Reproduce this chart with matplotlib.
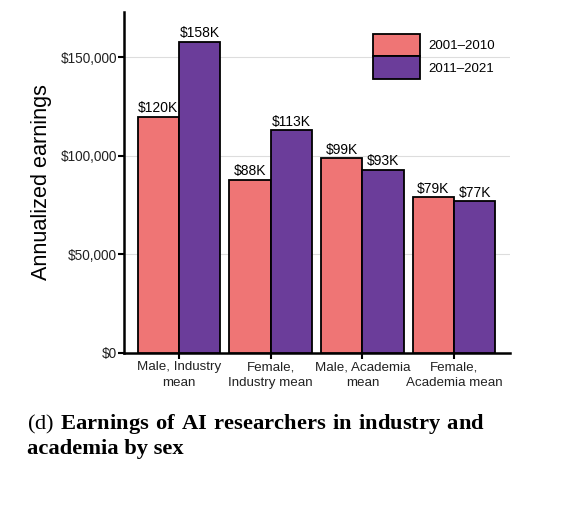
import matplotlib.pyplot as plt
import numpy as np

groups = ["Male, Industry\nmean", "Female,\nIndustry mean",
          "Male, Academia\nmean", "Female,\nAcademia mean"]
series_names = ["2001\u20132010", "2011\u20132021"]
earn_2001_2010 = [120000, 88000, 99000, 79000]
earn_2011_2021 = [158000, 113000, 93000, 77000]
bar_labels_2001 = ["$120K", "$88K", "$99K", "$79K"]
bar_labels_2011 = ["$158K", "$113K", "$93K", "$77K"]
yticks = [0, 50000, 100000, 150000]
ytick_labels = ["$0", "$50,000", "$100,000", "$150,000"]

colors = ["#EF7575", "#6B3D9A"]


def main():
    plt.rcParams["font.family"] = ["Liberation Sans", "DejaVu Sans"]
    plt.rcParams["mathtext.fontset"] = "custom"
    plt.rcParams["mathtext.rm"] = "Liberation Serif"
    plt.rcParams["mathtext.bf"] = "Liberation Serif:bold"

    fig = plt.figure(figsize=(5.83, 5.05), dpi=100)
    ax = fig.add_axes([0.2127, 0.301, 0.662, 0.675])

    x = np.arange(1, len(groups) + 1)
    w = 0.45
    b1 = ax.bar(x - w / 2, earn_2001_2010, w, color=colors[0],
                edgecolor="black", linewidth=1.3, label=series_names[0], zorder=3)
    b2 = ax.bar(x + w / 2, earn_2011_2021, w, color=colors[1],
                edgecolor="black", linewidth=1.3, label=series_names[1], zorder=3)
    ax.bar_label(b1, labels=bar_labels_2001, padding=1, fontsize=10)
    ax.bar_label(b2, labels=bar_labels_2011, padding=1, fontsize=10)

    ax.set_xlim(0.4, 4.61)
    ax.set_ylim(0, 173000)
    ax.set_xticks(x)
    ax.set_xticklabels(groups, fontsize=9.6, linespacing=1.45)
    ax.set_yticks(yticks)
    ax.set_yticklabels(ytick_labels, fontsize=9.8)
    ax.grid(axis="y", color="#DDDDDD", linewidth=0.8, zorder=0)
    ax.set_ylabel("Annualized earnings", fontsize=15.6, labelpad=6)

    for s in ["top", "right"]:
        ax.spines[s].set_visible(False)
    for s in ["left", "bottom"]:
        ax.spines[s].set_linewidth(1.8)
    ax.tick_params(width=1.5, length=4, color="black", labelcolor="#222222")
    ax.tick_params(axis="y", pad=1)
    ax.tick_params(axis="x", pad=2)

    ax.legend(loc="upper left", bbox_to_anchor=(373 / 583, 1 - 34 / 505),
              bbox_transform=fig.transFigure, frameon=False,
              fontsize=9.5, handlelength=3.56, handleheight=2.23,
              labelspacing=0.0, handletextpad=0.6, borderpad=0,
              borderaxespad=0)

    fig.text(0.046, 0.150,
             "$\\mathrm{(d)}\\ \\mathbf{Earnings\\ of\\ AI\\ researchers\\ in\\ industry\\ and}$",
             fontsize=16.2)
    fig.text(0.046, 0.101, "academia by sex", fontsize=16.2,
             family="Liberation Serif", fontweight="bold")

    fig.savefig("out.png", dpi=100)


if __name__ == "__main__":
    main()
